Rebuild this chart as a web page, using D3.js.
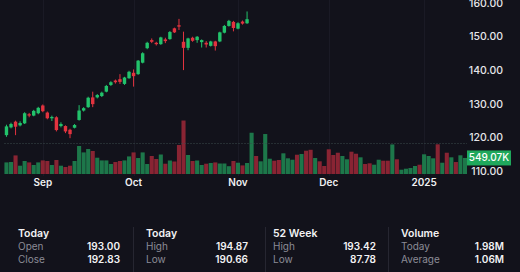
<!DOCTYPE html>
<html><head><meta charset="utf-8">
<script src="https://cdn.jsdelivr.net/npm/d3@7"></script>
<style>
html,body{margin:0;padding:0;background:#12121b;}
svg{display:block;font-family:Inter,"Noto Sans",sans-serif;}
</style></head><body>
<svg id="c" width="520" height="272"></svg>
<script>
// ---- data ----
const tickIndex  = [8, 28, 51, 71, 92];
const tickLabels = ["Sep", "Oct", "Nov", "Dec", "2025"];
const priceTicks = [110, 120, 130, 140, 150, 160];

const opens  = [120.7,123.0,124.7,123.6,124.2,126.9,126.5,127.2,129.5,127.4,125.7,126.0,123.4,123.4,122.3,122.9,125.2,128.0,129.0,131.9,131.9,132.3,133.6,135.6,136.9,137.3,135.9,137.6,139.2,138.8,142.2,146.5,148.9,148.1,147.7,149.1,149.2,152.4,153.3,148.4,146.6,149.6,148.9,148.3,148.1,147.2,148.5,148.5,151.1,153.1,154.3,152.3,154.4,153.9];
const highs  = [123.8,124.4,125.0,124.8,127.5,127.3,128.2,129.1,129.8,127.7,126.5,126.3,124.5,123.6,122.6,124.0,129.6,129.0,132.1,133.6,132.9,133.6,135.6,136.7,137.2,138.8,138.0,139.8,140.2,143.0,145.3,148.4,149.4,148.4,149.9,149.6,151.6,152.6,155.2,151.4,149.6,149.9,150.1,149.1,148.6,148.7,148.7,151.4,153.4,154.9,154.6,154.2,154.7,157.4];
const lows   = [120.2,122.7,120.7,123.3,124.0,126.0,126.3,126.9,127.5,125.4,124.9,121.8,123.0,121.3,119.8,122.7,125.0,127.7,128.8,129.0,131.6,132.0,133.4,135.3,136.0,135.9,135.6,137.4,135.1,138.6,142.0,146.2,148.0,147.3,147.5,148.0,149.0,151.0,151.9,140.0,145.9,148.4,148.1,146.7,146.7,147.0,145.8,148.3,150.9,152.9,151.5,152.1,153.5,153.7];
const closes = [123.3,124.0,123.2,124.3,127.2,126.5,127.9,128.8,127.8,125.7,126.1,122.2,124.0,121.8,121.0,123.7,128.0,128.7,131.8,129.9,132.6,133.3,135.3,136.4,136.4,136.5,137.8,139.5,138.2,142.8,145.0,148.1,148.4,147.7,149.7,148.6,151.3,151.2,152.9,146.6,149.4,148.7,149.9,148.9,147.6,148.5,147.1,151.2,153.1,154.6,152.5,153.9,153.8,155.1];

// volumes in thousands
const volumes = [397,410,636,284,445,397,308,397,465,445,308,479,284,240,284,445,958,739,855,787,557,465,465,342,410,445,465,602,739,547,739,342,616,513,667,352,462,428,992,1830,650,445,462,308,352,376,397,359,359,267,445,386,294,376,1412,616,434,1368,523,455,479,708,537,489,660,684,797,828,547,434,274,845,650,728,616,503,763,694,571,342,366,318,489,455,455,1012,503,147,181,205,274,318,674,616,537,1016,386,728,571,410,640,549.07];
const volumeUp = [1,1,0,1,1,0,1,1,0,0,1,0,1,0,0,1,1,1,1,0,1,1,1,1,0,0,1,1,0,1,1,1,0,0,1,0,1,0,0,0,1,0,1,1,0,1,0,1,1,1,0,1,0,1,1,0,1,1,1,0,0,1,1,1,0,1,0,0,1,0,0,0,0,0,1,1,0,0,1,0,0,1,1,0,0,1,0,1,1,1,1,0,1,1,1,0,1,0,1,0,1,1];
const lastVolumeLabel = "549.07K";
const averageVolume = 1060;

const statHeaders = ["Today", "Today", "52 Week", "Volume"];
const statLabels  = [["Open","Close"], ["High","Low"], ["High","Low"], ["Today","Average"]];
const statValues  = [["193.00","192.83"], ["194.87","190.66"], ["193.42","87.78"], ["1.98M","1.06M"]];

// ---- drawing ----
const svg = d3.select("#c");
const W = 520, H = 272;
svg.append("rect").attr("width", W).attr("height", H).attr("fill", "#12121b");

const step = 4.535;
const x = d3.scaleBand().domain(d3.range(volumes.length))
  .range([4.43, 4.43 + step * volumes.length]).paddingInner(0.1);
const cx = i => x(i) + x.bandwidth() / 2;

const yP = d3.scaleLinear().domain([110, 160]).range([171.2, 2.7]);
const yV = d3.scaleLinear().domain([0, 1800]).range([174, 121.4]);

const UP = "#22c26b", DN = "#e2333f";
const VUP = "#1d774a", VDN = "#892433";

// month gridlines
svg.append("g").selectAll("line").data(tickIndex).join("line")
  .attr("x1", d => Math.round(cx(d)) + 0.5).attr("x2", d => Math.round(cx(d)) + 0.5)
  .attr("y1", 0).attr("y2", 176).attr("stroke", "#1a1a25").attr("stroke-width", 1);

// volume bars
svg.append("g").selectAll("rect").data(volumes).join("rect")
  .attr("x", (d, i) => x(i)).attr("width", x.bandwidth())
  .attr("y", d => yV(d)).attr("height", d => yV(0) - yV(d))
  .attr("fill", (d, i) => volumeUp[i] ? VUP : VDN);

// average volume dotted line
svg.append("line")
  .attr("x1", 4.5).attr("x2", 467).attr("y1", Math.round(yV(averageVolume)) + 0.5).attr("y2", Math.round(yV(averageVolume)) + 0.5)
  .attr("stroke", "#3b4a4c").attr("stroke-width", 1).attr("stroke-dasharray", "1,2");

// candles
const cg = svg.append("g");
const idx = d3.range(opens.length);
cg.selectAll("line").data(idx).join("line")
  .attr("x1", i => cx(i)).attr("x2", i => cx(i))
  .attr("y1", i => yP(highs[i])).attr("y2", i => yP(lows[i]))
  .attr("stroke", i => closes[i] >= opens[i] ? UP : DN).attr("stroke-width", 1);
const bw = 3.4;
cg.selectAll("rect").data(idx).join("rect")
  .attr("x", i => cx(i) - bw / 2).attr("width", bw)
  .attr("y", i => yP(Math.max(opens[i], closes[i])))
  .attr("height", i => Math.max(1, Math.abs(yP(opens[i]) - yP(closes[i]))))
  .attr("fill", i => closes[i] >= opens[i] ? UP : DN);

// price axis labels
const yAxis = d3.axisRight(yP).tickValues(priceTicks).tickFormat(d3.format(".2f")).tickSize(0).tickPadding(0);
const ya = svg.append("g").attr("transform", "translate(475,0)").call(yAxis);
ya.select(".domain").remove();
ya.selectAll("text").attr("fill", "#e6e6ea").attr("font-size", "10.5px").attr("font-weight", 500)
  .attr("x", 28).attr("text-anchor", "end").attr("font-family", "Inter,sans-serif");

// x axis labels
const xAxis = d3.axisBottom(x).tickValues(tickIndex).tickFormat((d, k) => tickLabels[k]).tickSize(0).tickPadding(0);
const xa = svg.append("g").attr("transform", "translate(0,179)").call(xAxis);
xa.select(".domain").remove();
xa.selectAll("text").attr("fill", "#f0f0f2").attr("font-size", "10px").attr("font-weight", 600)
  .attr("font-family", "Inter,sans-serif");

// last volume badge
const by = yV(volumes[volumes.length - 1]);
svg.append("rect").attr("x", 467).attr("y", by - 7.5).attr("width", 44).attr("height", 15).attr("fill", "#1fa85c");
svg.append("text").attr("x", 489).attr("y", by).attr("dy", "0.35em").attr("text-anchor", "middle")
  .attr("fill", "#ffffff").attr("font-size", "10px").attr("font-weight", 500).text(lastVolumeLabel);

// stats
const labelX = [18, 146, 273, 401];
const valueX = [120, 248, 376, 504];
const sepX = [133, 265, 388];
svg.append("g").selectAll("line").data(sepX).join("line")
  .attr("x1", d => d + 0.5).attr("x2", d => d + 0.5).attr("y1", 227).attr("y2", 272)
  .attr("stroke", "#262631");
const sg = svg.append("g");
statHeaders.forEach((h, c) => {
  sg.append("text").attr("x", labelX[c]).attr("y", 233).attr("dy", "0.35em")
    .attr("fill", "#f2f2f4").attr("font-size", "10.5px").attr("font-weight", 600).text(h);
  statLabels[c].forEach((l, r) => {
    const yy = 246.3 + r * 13;
    sg.append("text").attr("x", labelX[c]).attr("y", yy).attr("dy", "0.35em")
      .attr("fill", "#8b8b96").attr("font-size", "10px").attr("font-weight", 400).text(l);
    sg.append("text").attr("x", valueX[c]).attr("y", yy).attr("dy", "0.35em").attr("text-anchor", "end")
      .attr("fill", "#f2f2f4").attr("font-size", "10px").attr("font-weight", 600).text(statValues[c][r]);
  });
});
</script>
</body></html>
